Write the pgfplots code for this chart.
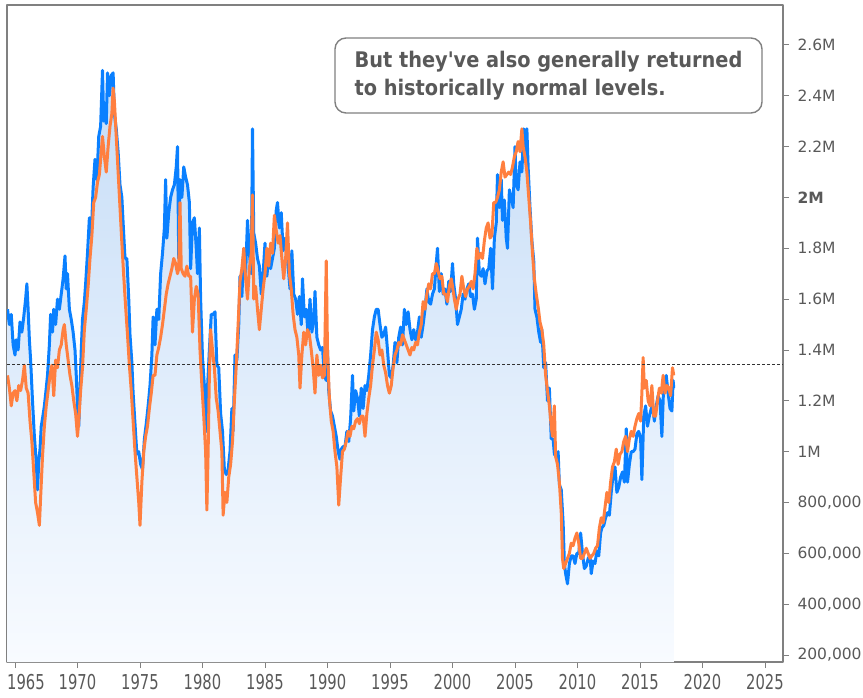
\documentclass[border=0pt]{standalone}
\usepackage{pgfplots}
\pgfplotsset{compat=1.18}
\usepackage{pgfplotstable}
\usepackage{fontspec}
\usepackage{graphicx}
\setmainfont{DejaVu Sans}
\newfontfamily\condfont{DejaVu Sans Condensed}

\definecolor{bl}{HTML}{0A80FF}
\definecolor{orng}{HTML}{FF7F3F}
\definecolor{txt}{HTML}{595959}
\definecolor{frm}{HTML}{808080}
\definecolor{filltop}{HTML}{C6DDF7}
\definecolor{fillbot}{HTML}{F8FBFF}

\newcommand{\xl}[1]{\scalebox{0.8}[1]{#1}}

\pgfplotstableread{
x y
1964.40 1560
1964.55 1500
1964.70 1540
1964.85 1420
1965.00 1380
1965.10 1440
1965.25 1400
1965.40 1510
1965.55 1470
1965.70 1530
1965.85 1600
1965.95 1660
1966.05 1560
1966.15 1440
1966.25 1360
1966.40 1200
1966.55 1060
1966.70 960
1966.80 850
1966.90 960
1967.00 1010
1967.10 1100
1967.20 1130
1967.35 1180
1967.50 1250
1967.60 1300
1967.75 1420
1967.85 1540
1968.00 1470
1968.10 1560
1968.25 1500
1968.40 1600
1968.55 1560
1968.70 1620
1968.85 1680
1969.00 1770
1969.10 1640
1969.20 1700
1969.35 1560
1969.50 1520
1969.65 1470
1969.80 1400
1969.90 1300
1970.00 1180
1970.10 1100
1970.20 1240
1970.30 1400
1970.40 1520
1970.55 1590
1970.65 1660
1970.80 1780
1970.95 1920
1971.10 1850
1971.25 2040
1971.40 2150
1971.55 2070
1971.70 2240
1971.85 2280
1972.00 2500
1972.10 2300
1972.20 2370
1972.30 2290
1972.40 2490
1972.55 2400
1972.70 2480
1972.85 2490
1972.95 2330
1973.10 2270
1973.25 2180
1973.40 2050
1973.55 2000
1973.65 1900
1973.80 1760
1973.95 1760
1974.10 1600
1974.20 1460
1974.35 1350
1974.45 1230
1974.60 1110
1974.75 990
1974.90 1000
1975.05 950
1975.20 930
1975.35 1050
1975.50 1110
1975.65 1180
1975.80 1260
1975.95 1380
1976.05 1530
1976.20 1420
1976.35 1560
1976.50 1520
1976.65 1700
1976.80 1780
1976.95 1880
1977.05 2070
1977.15 1840
1977.30 1940
1977.45 2000
1977.60 2030
1977.75 2050
1977.90 2120
1978.00 2200
1978.10 1760
1978.20 2070
1978.35 2000
1978.50 2120
1978.65 2080
1978.80 2050
1978.95 1980
1979.05 1720
1979.20 1900
1979.35 1920
1979.50 1800
1979.60 1700
1979.75 1880
1979.85 1600
1980.00 1370
1980.15 1260
1980.30 1080
1980.40 1250
1980.55 1400
1980.70 1540
1980.85 1540
1981.00 1550
1981.15 1340
1981.30 1330
1981.45 1150
1981.60 1080
1981.75 930
1981.90 910
1982.05 930
1982.20 1000
1982.35 1170
1982.45 1080
1982.60 1380
1982.75 1360
1982.90 1500
1983.00 1690
1983.15 1610
1983.30 1790
1983.45 1700
1983.60 1910
1983.75 1780
1983.90 1700
1984.00 2270
1984.10 1860
1984.25 1820
1984.40 1760
1984.55 1730
1984.70 1620
1984.85 1700
1985.00 1820
1985.15 1690
1985.30 1770
1985.45 1720
1985.60 1760
1985.75 1800
1985.90 1950
1986.00 1980
1986.15 1880
1986.30 1940
1986.45 1790
1986.60 1840
1986.75 1780
1986.90 1700
1987.00 1640
1987.15 1790
1987.30 1620
1987.45 1600
1987.60 1540
1987.75 1610
1987.90 1500
1988.00 1680
1988.15 1530
1988.30 1560
1988.45 1460
1988.60 1600
1988.75 1470
1988.90 1520
1989.00 1630
1989.15 1450
1989.30 1420
1989.45 1400
1989.60 1410
1989.75 1300
1989.90 1280
1990.00 1400
1990.10 1240
1990.25 1160
1990.40 1140
1990.55 1100
1990.70 1060
1990.85 1000
1991.00 970
1991.10 1010
1991.25 1020
1991.40 1020
1991.55 1080
1991.70 1040
1991.85 1130
1992.00 1300
1992.10 1160
1992.25 1240
1992.40 1210
1992.55 1140
1992.70 1250
1992.85 1170
1993.00 1260
1993.15 1240
1993.30 1300
1993.45 1380
1993.60 1480
1993.75 1530
1993.90 1560
1994.05 1560
1994.20 1500
1994.35 1450
1994.50 1460
1994.65 1490
1994.80 1400
1994.95 1300
1995.10 1290
1995.25 1340
1995.40 1430
1995.55 1350
1995.70 1450
1995.85 1490
1996.00 1420
1996.15 1560
1996.30 1500
1996.45 1550
1996.60 1480
1996.75 1440
1996.90 1480
1997.05 1440
1997.20 1470
1997.35 1530
1997.50 1450
1997.65 1500
1997.80 1560
1997.95 1640
1998.10 1590
1998.25 1580
1998.40 1620
1998.55 1640
1998.70 1740
1998.80 1800
1998.95 1630
1999.10 1700
1999.25 1620
1999.40 1640
1999.55 1580
1999.70 1670
1999.85 1630
2000.00 1740
2000.10 1660
2000.25 1600
2000.40 1500
2000.55 1530
2000.70 1560
2000.85 1620
2001.00 1600
2001.15 1640
2001.30 1660
2001.45 1610
2001.60 1620
2001.75 1560
2001.90 1600
2002.00 1840
2002.15 1700
2002.30 1690
2002.45 1720
2002.60 1660
2002.75 1710
2002.90 1720
2003.05 1800
2003.20 1640
2003.35 1840
2003.50 1900
2003.60 2090
2003.75 1960
2003.90 2070
2004.00 1910
2004.15 1990
2004.30 1840
2004.40 1800
2004.55 2030
2004.70 2000
2004.85 1960
2005.00 2200
2005.10 2050
2005.25 2030
2005.40 2140
2005.55 2100
2005.70 2270
2005.85 2150
2005.95 2270
2006.05 2120
2006.20 1960
2006.35 1830
2006.50 1750
2006.60 1560
2006.75 1530
2006.90 1470
2007.05 1430
2007.15 1480
2007.30 1330
2007.45 1350
2007.60 1200
2007.75 1250
2007.90 1050
2008.05 1050
2008.15 990
2008.30 980
2008.45 1000
2008.55 870
2008.70 850
2008.85 720
2008.95 560
2009.05 520
2009.20 480
2009.35 560
2009.50 590
2009.65 590
2009.80 560
2009.95 600
2010.10 600
2010.25 680
2010.40 600
2010.55 540
2010.70 550
2010.85 580
2011.00 590
2011.10 520
2011.25 570
2011.40 560
2011.55 610
2011.70 590
2011.85 680
2011.95 700
2012.10 710
2012.25 740
2012.40 760
2012.55 750
2012.70 840
2012.85 910
2013.00 940
2013.15 840
2013.30 860
2013.45 900
2013.60 920
2013.75 880
2013.90 1090
2014.00 880
2014.15 950
2014.30 1000
2014.45 1000
2014.60 1010
2014.75 1070
2014.90 1080
2015.05 1050
2015.15 890
2015.30 1140
2015.45 1180
2015.60 1100
2015.75 1140
2015.90 1170
2016.00 1180
2016.15 1120
2016.30 1180
2016.45 1220
2016.60 1200
2016.75 1060
2016.90 1270
2017.00 1260
2017.10 1300
2017.25 1230
2017.40 1170
2017.55 1160
2017.65 1280
2017.70 1250
}\blueseries

\pgfplotstableread{
x y
1964.40 1300
1964.55 1250
1964.70 1180
1964.85 1230
1965.00 1240
1965.15 1200
1965.30 1260
1965.45 1240
1965.60 1280
1965.75 1340
1965.90 1250
1966.05 1230
1966.20 1120
1966.35 1040
1966.50 920
1966.65 800
1966.80 760
1966.95 710
1967.05 820
1967.20 980
1967.35 1100
1967.50 1180
1967.65 1240
1967.80 1300
1967.95 1340
1968.10 1220
1968.25 1360
1968.40 1330
1968.55 1400
1968.70 1420
1968.85 1480
1968.95 1500
1969.10 1420
1969.25 1360
1969.40 1300
1969.55 1260
1969.70 1200
1969.85 1150
1970.00 1060
1970.10 1120
1970.25 1240
1970.40 1330
1970.55 1480
1970.70 1560
1970.85 1650
1971.00 1760
1971.15 1850
1971.30 1980
1971.45 2000
1971.60 2060
1971.75 2090
1971.90 2180
1972.00 2240
1972.15 2160
1972.30 2100
1972.45 2200
1972.60 2280
1972.75 2330
1972.85 2430
1972.95 2380
1973.10 2240
1973.25 2100
1973.40 1960
1973.55 1820
1973.70 1690
1973.85 1570
1974.00 1460
1974.15 1340
1974.30 1240
1974.45 1120
1974.60 1000
1974.75 900
1974.90 800
1975.00 710
1975.15 880
1975.30 1000
1975.45 1060
1975.60 1100
1975.75 1170
1975.90 1230
1976.05 1300
1976.20 1300
1976.35 1380
1976.50 1410
1976.65 1450
1976.80 1500
1976.95 1560
1977.10 1620
1977.25 1660
1977.40 1690
1977.55 1720
1977.70 1760
1977.85 1740
1978.00 1700
1978.10 1720
1978.20 1980
1978.30 1720
1978.45 1700
1978.60 1690
1978.75 1730
1978.90 1690
1979.05 1690
1979.20 1470
1979.35 1600
1979.50 1650
1979.65 1620
1979.80 1400
1979.95 1260
1980.10 1140
1980.25 1000
1980.35 770
1980.45 1000
1980.55 1300
1980.65 1480
1980.80 1400
1980.95 1330
1981.10 1210
1981.25 1160
1981.40 1080
1981.55 1000
1981.65 750
1981.80 840
1981.95 800
1982.10 900
1982.25 950
1982.40 1040
1982.55 1200
1982.70 1340
1982.85 1500
1983.00 1670
1983.15 1720
1983.30 1800
1983.45 1680
1983.60 1600
1983.75 1720
1983.90 1780
1984.00 2010
1984.10 1600
1984.25 1650
1984.40 1560
1984.55 1480
1984.70 1560
1984.85 1640
1985.00 1700
1985.15 1800
1985.30 1730
1985.45 1820
1985.60 1780
1985.75 1930
1985.90 1870
1986.05 1820
1986.20 1850
1986.35 1760
1986.50 1680
1986.65 1760
1986.80 1900
1986.95 1700
1987.10 1640
1987.25 1540
1987.40 1480
1987.55 1450
1987.70 1380
1987.80 1250
1987.95 1380
1988.10 1470
1988.25 1420
1988.40 1480
1988.55 1460
1988.70 1400
1988.85 1330
1989.00 1230
1989.15 1380
1989.30 1300
1989.45 1340
1989.60 1290
1989.75 1300
1989.90 1750
1990.00 1400
1990.15 1210
1990.30 1120
1990.45 1080
1990.60 1000
1990.75 940
1990.90 790
1991.05 900
1991.20 1000
1991.35 1010
1991.50 1040
1991.65 1080
1991.80 1060
1991.95 1100
1992.10 1090
1992.25 1120
1992.40 1130
1992.55 1110
1992.70 1140
1992.85 1140
1993.00 1060
1993.15 1150
1993.30 1210
1993.45 1260
1993.60 1340
1993.75 1400
1993.90 1470
1994.05 1440
1994.20 1380
1994.35 1400
1994.50 1340
1994.65 1310
1994.80 1260
1994.95 1230
1995.10 1260
1995.25 1330
1995.40 1380
1995.55 1400
1995.70 1430
1995.85 1420
1996.00 1460
1996.15 1440
1996.30 1420
1996.45 1400
1996.60 1380
1996.75 1410
1996.90 1400
1997.05 1430
1997.20 1420
1997.35 1470
1997.50 1500
1997.65 1590
1997.80 1560
1997.95 1620
1998.10 1660
1998.25 1640
1998.40 1700
1998.55 1700
1998.70 1740
1998.85 1710
1999.00 1680
1999.15 1690
1999.30 1620
1999.45 1620
1999.60 1590
1999.75 1650
1999.90 1680
2000.00 1650
2000.15 1600
2000.30 1560
2000.45 1600
2000.60 1620
2000.75 1690
2000.90 1640
2001.05 1610
2001.20 1640
2001.35 1650
2001.50 1670
2001.65 1640
2001.80 1700
2001.95 1800
2002.10 1760
2002.25 1780
2002.40 1760
2002.55 1830
2002.70 1880
2002.85 1900
2003.00 1840
2003.15 1850
2003.30 1980
2003.45 1980
2003.60 2000
2003.75 2030
2003.90 2100
2004.05 2140
2004.20 2080
2004.35 2090
2004.50 2100
2004.65 2090
2004.80 2120
2004.95 2160
2005.10 2180
2005.25 2220
2005.40 2180
2005.55 2270
2005.65 2200
2005.80 2160
2005.95 2100
2006.10 2000
2006.25 1900
2006.40 1780
2006.55 1680
2006.70 1620
2006.85 1570
2007.00 1510
2007.15 1480
2007.30 1420
2007.45 1300
2007.60 1240
2007.75 1180
2007.90 1100
2008.00 1060
2008.15 1180
2008.25 980
2008.40 950
2008.55 880
2008.70 760
2008.80 580
2008.90 540
2009.05 560
2009.20 580
2009.35 600
2009.50 640
2009.65 630
2009.80 660
2009.95 680
2010.10 640
2010.25 580
2010.40 580
2010.55 600
2010.70 620
2010.85 600
2011.00 580
2011.15 590
2011.30 600
2011.45 620
2011.60 630
2011.75 700
2011.90 740
2012.05 720
2012.20 780
2012.35 840
2012.50 800
2012.65 880
2012.80 940
2012.95 960
2013.10 1010
2013.25 950
2013.40 990
2013.55 1000
2013.70 1040
2013.85 1060
2014.00 1000
2014.15 1050
2014.30 1080
2014.45 1060
2014.60 1100
2014.75 1130
2014.90 1150
2015.05 1120
2015.15 1230
2015.25 1370
2015.35 1250
2015.50 1280
2015.65 1200
2015.80 1180
2015.95 1260
2016.10 1140
2016.25 1140
2016.40 1200
2016.55 1250
2016.70 1230
2016.85 1300
2017.00 1230
2017.15 1260
2017.30 1250
2017.45 1220
2017.60 1330
2017.70 1300
}\orangeseries

\begin{document}
\begin{tikzpicture}
\useasboundingbox (-7bp,-36bp) rectangle (856bp,662bp);
\begin{axis}[
  at={(0,0)}, anchor=south west,
  scale only axis, width=776bp, height=657bp,
  xmin=1964.36, xmax=2026.44, ymin=172.5, ymax=2757,
  axis line style={frm, line width=1.4bp},
  xtick={1965,1970,...,2025},
  xticklabels={\hspace*{22bp}\xl{1965},\xl{1970},\xl{1975},\xl{1980},\xl{1985},\xl{1990},\xl{1995},\xl{2000},\xl{2005},\xl{2010},\xl{2015},\xl{2020},\xl{2025}},
  xtick pos=left, ytick pos=right,
  tick align=outside, major tick length=6bp,
  tick style={frm, line width=0.9bp},
  ytick={200,400,...,2600},
  yticklabels={{200,000},{400,000},{600,000},{800,000},{1M},{1.2M},{1.4M},{1.6M},{1.8M},{\bfseries 2M},{2.2M},{2.4M},{2.6M}},
  yticklabel pos=right,
  xticklabel style={font=\condfont\fontsize{20.5bp}{21bp}\selectfont, text=txt, yshift=-3bp},
  yticklabel style={font=\fontsize{15.5bp}{16bp}\selectfont, text=txt, anchor=west, xshift=5bp},
  line join=round,
]
\addplot[draw=none, top color=filltop, bottom color=fillbot] table {\blueseries} \closedcycle;
\addplot[bl, line width=3bp] table {\blueseries};
\addplot[orng, line width=3bp] table {\orangeseries};
\addplot[black!80, dash pattern=on 3bp off 2bp, line width=1bp] coordinates {(1964.36,1341) (2026.44,1341)};
\end{axis}
\node[draw=frm, rounded corners=11bp, line width=1.4bp, fill=white, text=txt,
      align=left, minimum width=427bp, minimum height=75bp, inner xsep=0bp,
      font=\condfont\bfseries\fontsize{21.5bp}{28bp}\selectfont]
  at (541.5bp,586.5bp) {But they\textquotesingle ve also generally returned\\to historically normal levels.};
\end{tikzpicture}
\end{document}
